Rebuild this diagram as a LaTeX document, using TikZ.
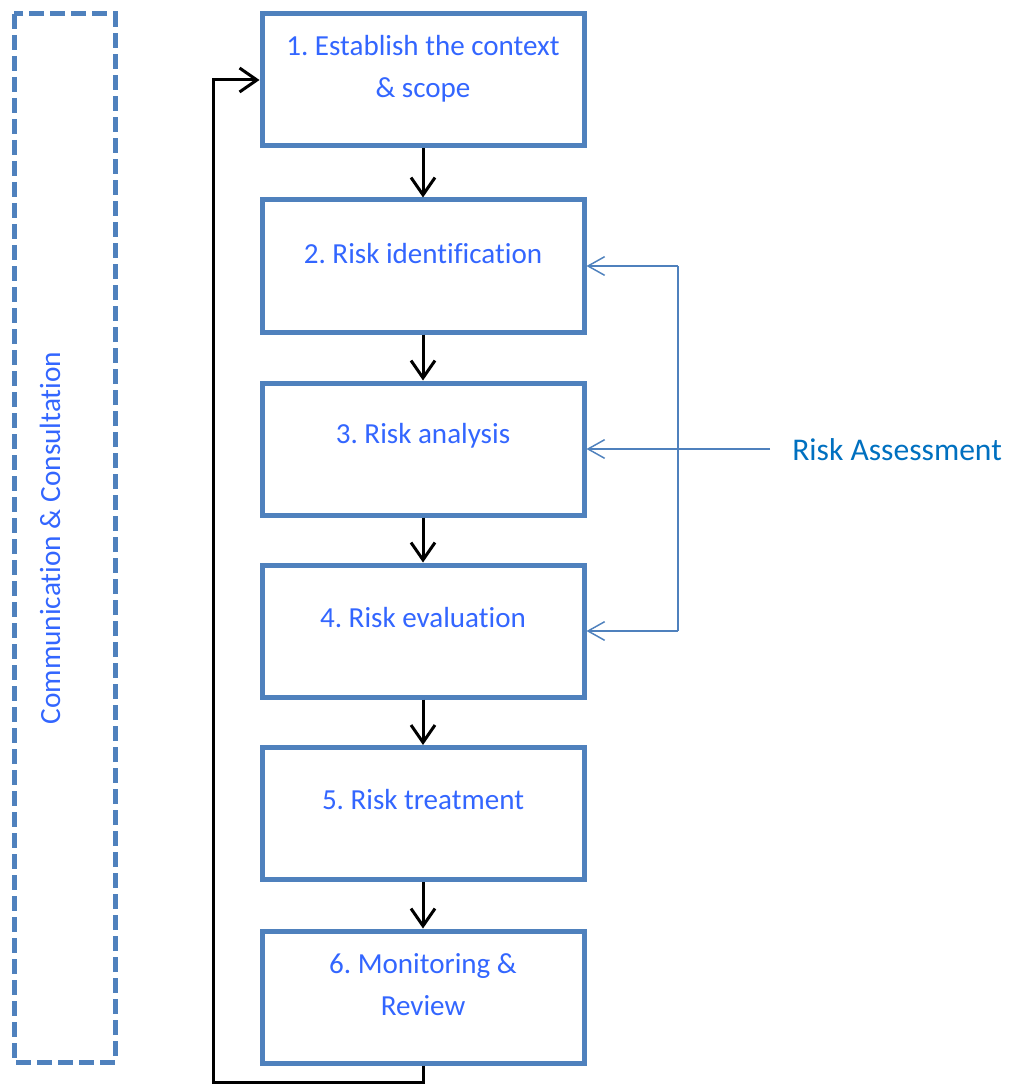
\documentclass[tikz,border=0pt]{standalone}
\usepackage{fontspec}
\setmainfont{Carlito}[Ligatures=CommonOff]
\frenchspacing
\usetikzlibrary{arrows.meta}
\definecolor{boxblue}{HTML}{4F81BD}
\definecolor{txtblue}{HTML}{3366FF}
\definecolor{rablue}{HTML}{0070C0}
\begin{document}
\begin{tikzpicture}[x=0.75pt,y=-0.75pt,
  stepbox/.style={draw=boxblue,line width=3.75pt,minimum width=241.5pt,minimum height=99pt,inner sep=0pt},
  lbl/.style={text=txtblue,font=\fontsize{21.8}{31.5}\selectfont\frenchspacing,align=center,inner sep=0pt},
  karrow/.style={draw=black,line width=2.25pt,-{Straight Barb[length=13pt,width=18pt]}},
  barrow/.style={draw=boxblue,line width=1.1pt,-{Straight Barb[length=12.5pt,width=14pt]}},
  bline/.style={draw=boxblue,line width=1.1pt}]
\useasboundingbox (0,0) rectangle (1010,1084);
% dashed frame
\draw[draw=boxblue,line width=3.75pt,dash pattern=on 11.25pt off 4.5pt] (14,14) rectangle (115,1062);
\node[text=txtblue,font=\fontsize{22}{26}\selectfont,rotate=90,inner sep=0pt] (cc) at (50,538) {Communication \& Consultation};
% boxes
\node[stepbox] (b1) at (423,80) {};
\node[stepbox] (b2) at (423,266) {};
\node[stepbox] (b3) at (423,449) {};
\node[stepbox] (b4) at (423,631) {};
\node[stepbox] (b5) at (423,813.5) {};
\node[stepbox] (b6) at (423,997) {};
\node[lbl] (t1) at (423,69) {1. Establish the context\\\& scope};
\node[lbl] (t2) at (423,254) {2. Risk identification};
\node[lbl] (t3) at (423,436) {3. Risk analysis};
\node[lbl] (t4) at (423,618) {4. Risk evaluation};
\node[lbl] (t5) at (423,800) {5. Risk treatment};
\node[lbl] (t6) at (423,985) {6. Monitoring \&\\Review};
% flow arrows
\draw[karrow] (b1.south) -- (b2.north);
\draw[karrow] (b2.south) -- (b3.north);
\draw[karrow] (b3.south) -- (b4.north);
\draw[karrow] (b4.south) -- (b5.north);
\draw[karrow] (b5.south) -- (b6.north);
% feedback loop
\coordinate (fb) at (213,1082);
\draw[karrow] (b6.south) |- (fb) |- (b1.west);
% risk assessment bracket
\node[text=rablue,font=\fontsize{23.7}{28}\selectfont,anchor=west,inner sep=0pt] (ra) at (792,450) {Risk Assessment};
\coordinate (jt) at (678,266);
\coordinate (jm) at (678,449);
\coordinate (jb) at (678,631);
\coordinate (rl) at (770,449);
\draw[bline] (jt) -- (jb);
\draw[bline,line width=1.8pt] (rl) -- (jm);
\draw[barrow] (jt) -- (b2.east);
\draw[barrow] (jm) -- (b3.east);
\draw[barrow] (jb) -- (b4.east);
\end{tikzpicture}
\end{document}
